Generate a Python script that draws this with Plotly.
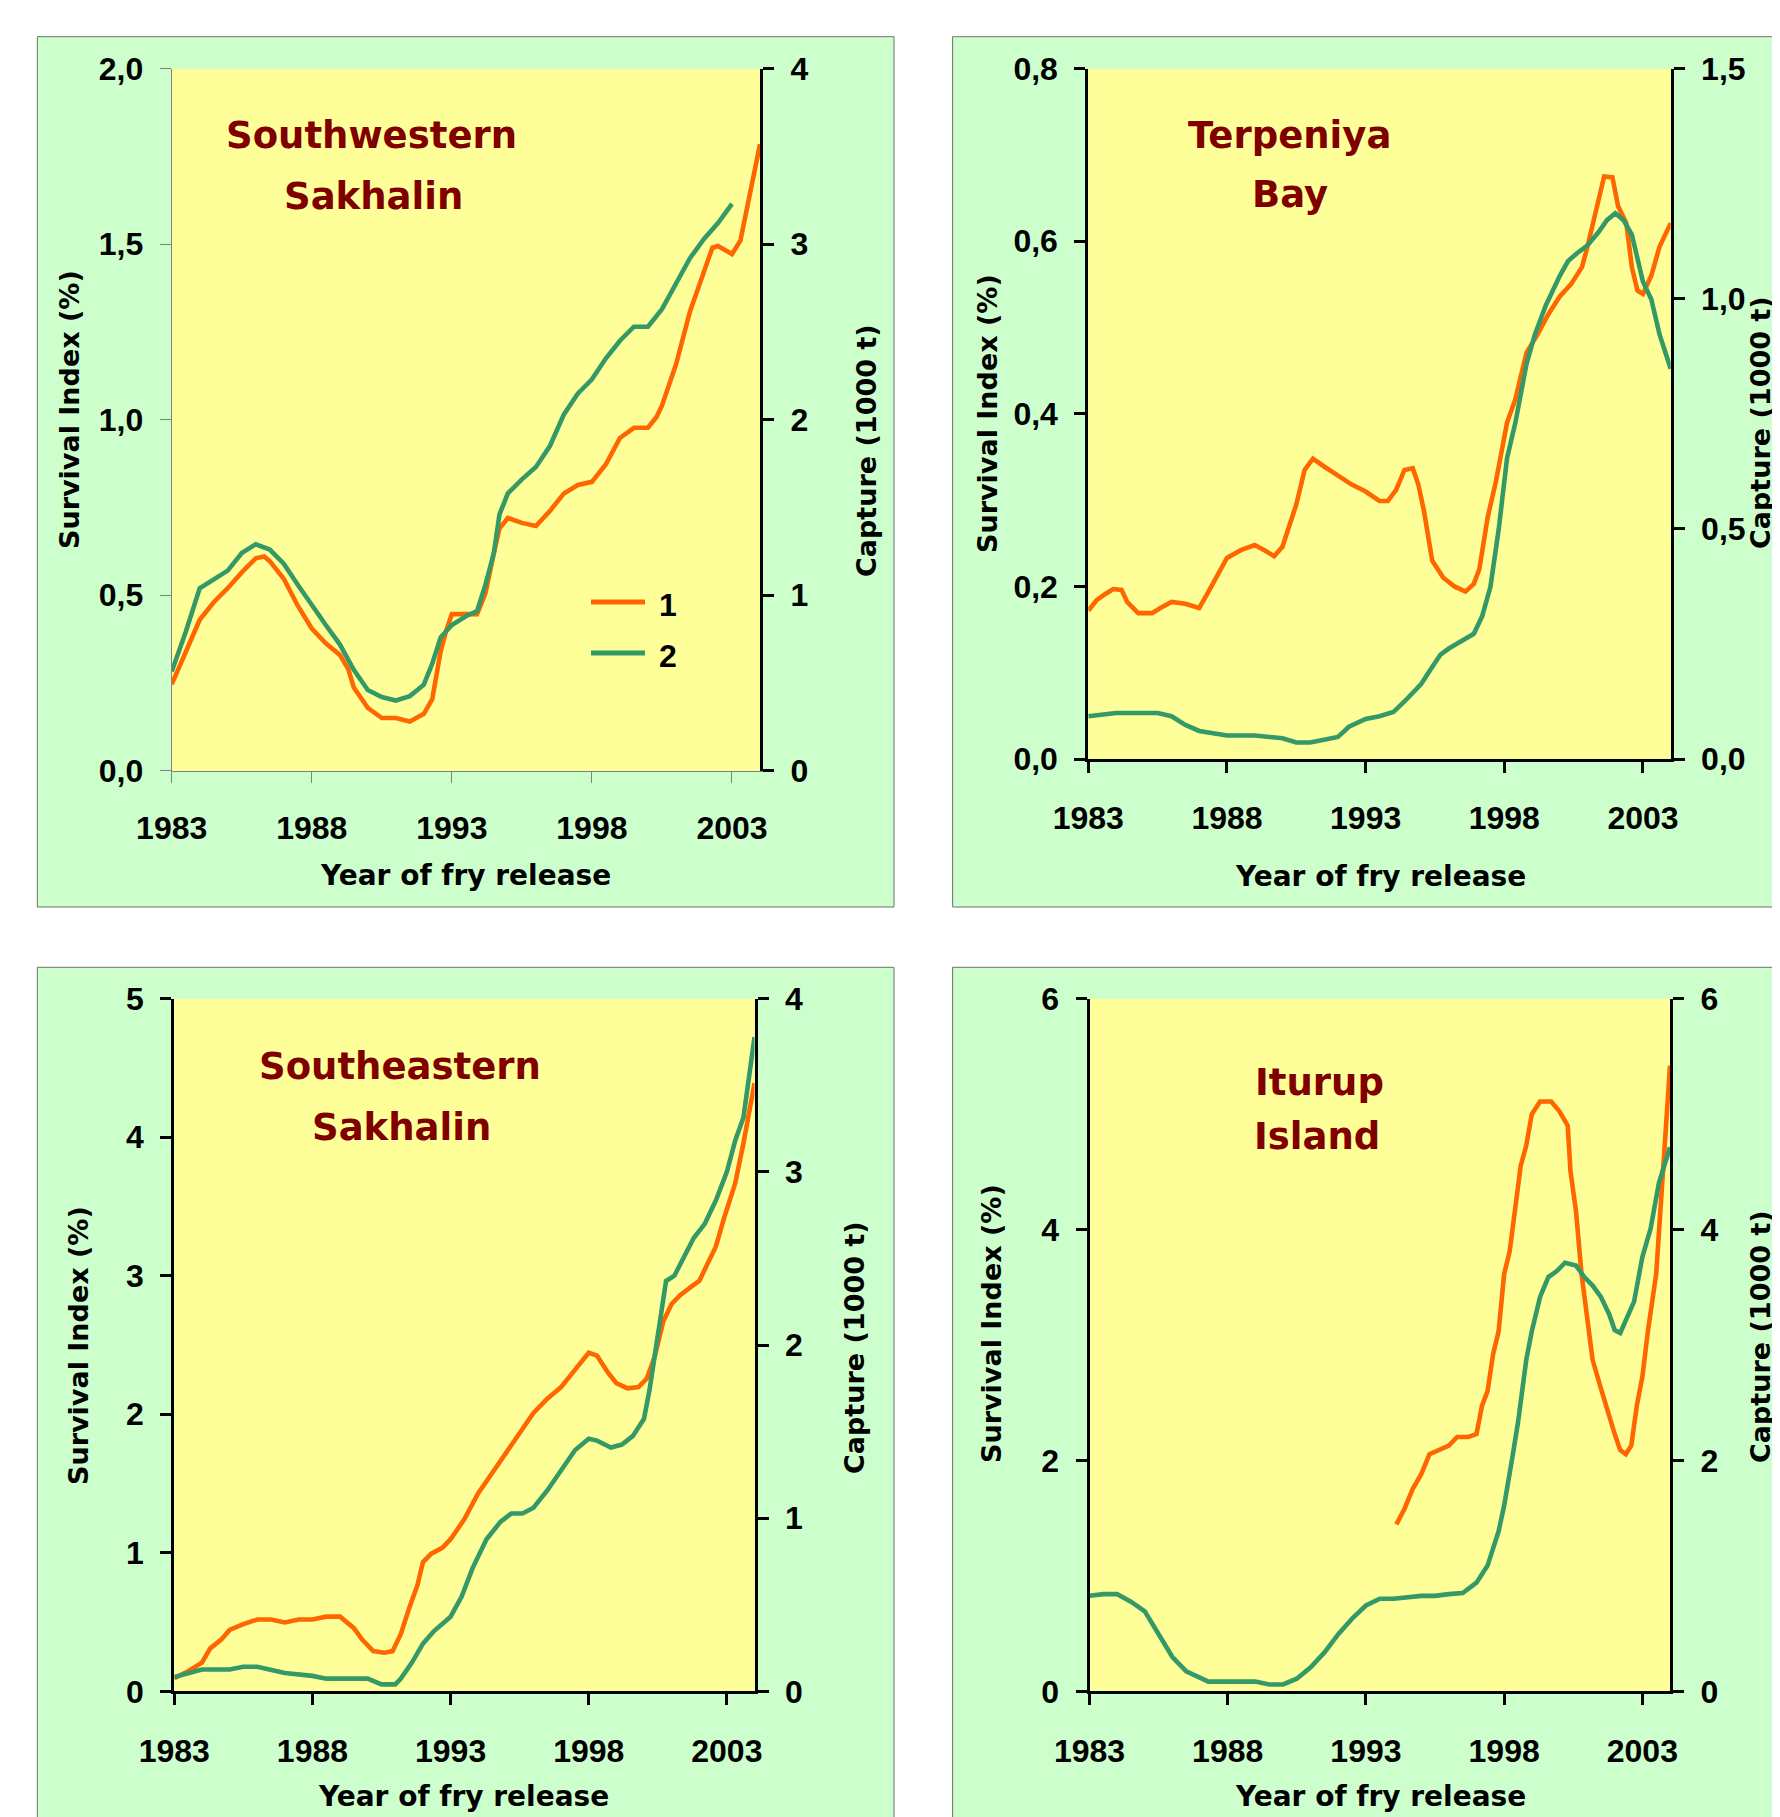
import plotly.graph_objects as go

W, H = 1780, 1817

# ---------------- DATA ----------------
# Panel A: Southwestern Sakhalin
sw_x1 = [1983.0, 1983.5, 1984.0, 1984.5, 1985.0, 1985.5, 1986.0, 1986.3, 1986.5, 1987.0, 1987.5,
         1988.0, 1988.5, 1989.0, 1989.3, 1989.5, 1990.0, 1990.5, 1991.0, 1991.5, 1992.0, 1992.3,
         1992.6, 1992.8, 1993.0, 1993.9, 1994.2, 1994.5, 1994.7, 1995.0, 1995.5, 1996.0, 1996.5,
         1997.0, 1997.5, 1998.0, 1998.5, 1999.0, 1999.5, 2000.0, 2000.3, 2000.5, 2001.0, 2001.5,
         2002.0, 2002.3, 2002.5, 2003.0, 2003.3, 2003.5, 2003.8, 2004.0]
sw_surv = [0.246, 0.338, 0.43, 0.48, 0.52, 0.565, 0.605, 0.61, 0.597, 0.547, 0.47,
           0.405, 0.363, 0.33, 0.29, 0.237, 0.179, 0.15, 0.15, 0.14, 0.162, 0.204,
           0.34, 0.40, 0.446, 0.446, 0.505, 0.62, 0.69, 0.72, 0.706, 0.697, 0.74,
           0.79, 0.814, 0.823, 0.873, 0.948, 0.977, 0.977, 1.007, 1.04, 1.157, 1.308,
           1.425, 1.49, 1.495, 1.472, 1.51, 1.59, 1.71, 1.785]
sw_x2 = [1983.0, 1983.5, 1984.0, 1984.5, 1985.0, 1985.5, 1986.0, 1986.5, 1987.0, 1987.5, 1988.0,
         1988.5, 1989.0, 1989.5, 1990.0, 1990.5, 1991.0, 1991.5, 1992.0, 1992.3, 1992.6, 1993.0,
         1993.5, 1993.9, 1994.2, 1994.5, 1994.7, 1995.0, 1995.5, 1996.0, 1996.5, 1997.0, 1997.5,
         1998.0, 1998.5, 1999.0, 1999.5, 2000.0, 2000.5, 2001.0, 2001.5, 2002.0, 2002.5, 2003.0]
sw_capt = [0.565, 0.79, 1.04, 1.09, 1.14, 1.24, 1.29, 1.26, 1.18, 1.06, 0.94,
           0.83, 0.72, 0.575, 0.46, 0.42, 0.40, 0.425, 0.49, 0.61, 0.76, 0.83,
           0.88, 0.91, 1.06, 1.24, 1.46, 1.58, 1.66, 1.73, 1.85, 2.03, 2.15,
           2.23, 2.35, 2.45, 2.53, 2.53, 2.63, 2.78, 2.92, 3.03, 3.12, 3.23]

# Panel B: Terpeniya Bay
tb_x1 = [1983.0, 1983.3, 1983.6, 1983.9, 1984.2, 1984.4, 1984.8, 1985.3, 1985.6, 1986.0, 1986.5,
         1987.0, 1987.3, 1987.6, 1988.0, 1988.5, 1989.0, 1989.4, 1989.7, 1990.0, 1990.3, 1990.5,
         1990.8, 1991.1, 1991.5, 1992.0, 1992.5, 1993.0, 1993.5, 1993.8, 1994.1, 1994.4, 1994.7,
         1994.9, 1995.1, 1995.4, 1995.8, 1996.2, 1996.6, 1996.9, 1997.1, 1997.4, 1997.7, 1998.1,
         1998.4, 1998.8, 1999.2, 1999.6, 2000.0, 2000.4, 2000.8, 2001.0, 2001.3, 2001.6, 2001.9,
         2002.1, 2002.4, 2002.6, 2002.8, 2003.0, 2003.3, 2003.6, 2004.0]
tb_surv = [0.172, 0.184, 0.191, 0.197, 0.196, 0.182, 0.169, 0.169, 0.175, 0.182, 0.18,
           0.175, 0.192, 0.21, 0.233, 0.242, 0.248, 0.241, 0.235, 0.246, 0.274, 0.295,
           0.335, 0.348, 0.339, 0.329, 0.318, 0.31, 0.299, 0.299, 0.312, 0.335, 0.337,
           0.318, 0.288, 0.23, 0.21, 0.2, 0.194, 0.203, 0.22, 0.28, 0.322, 0.39,
           0.417, 0.471, 0.492, 0.516, 0.536, 0.55, 0.57, 0.594, 0.635, 0.675, 0.674,
           0.641, 0.621, 0.57, 0.543, 0.539, 0.56, 0.594, 0.621]
tb_x2 = [1983.0, 1984.0, 1985.0, 1985.5, 1986.0, 1986.5, 1987.0, 1988.0, 1989.0, 1990.0, 1990.5,
         1991.0, 1991.5, 1992.0, 1992.4, 1993.0, 1993.5, 1994.0, 1994.4, 1995.0, 1995.4, 1995.7,
         1996.0, 1996.5, 1996.9, 1997.2, 1997.5, 1997.8, 1998.1, 1998.4, 1998.8, 1999.1, 1999.5,
         2000.0, 2000.3, 2000.6, 2001.0, 2001.4, 2001.7, 2002.0, 2002.3, 2002.6, 2003.0, 2003.3,
         2003.6, 2004.0]
tb_capt = [0.093, 0.10, 0.10, 0.10, 0.093, 0.074, 0.061, 0.051, 0.051, 0.045, 0.036,
           0.036, 0.042, 0.048, 0.070, 0.087, 0.093, 0.102, 0.125, 0.163, 0.2, 0.227,
           0.24, 0.259, 0.272, 0.31, 0.374, 0.50, 0.654, 0.731, 0.858, 0.922, 0.986,
           1.05, 1.082, 1.098, 1.116, 1.145, 1.171, 1.186, 1.171, 1.139, 1.037, 0.999,
           0.922, 0.848]

# Panel C: Southeastern Sakhalin
se_x1 = [1983.0, 1983.5, 1984.0, 1984.3, 1984.7, 1985.0, 1985.5, 1986.0, 1986.5, 1987.0, 1987.5,
         1988.0, 1988.5, 1989.0, 1989.5, 1989.8, 1990.2, 1990.6, 1990.9, 1991.2, 1991.5, 1991.8,
         1992.0, 1992.3, 1992.7, 1993.0, 1993.5, 1994.0, 1994.5, 1995.0, 1995.5, 1996.0, 1996.5,
         1997.0, 1997.5, 1998.0, 1998.3, 1998.7, 1999.0, 1999.4, 1999.8, 2000.1, 2000.4, 2000.7,
         2001.0, 2001.3, 2001.7, 2002.0, 2002.3, 2002.6, 2002.9, 2003.3, 2003.6, 2004.0]
se_surv = [0.095, 0.145, 0.207, 0.31, 0.373, 0.443, 0.485, 0.518, 0.518, 0.497, 0.518,
           0.518, 0.539, 0.539, 0.456, 0.373, 0.29, 0.278, 0.29, 0.414, 0.60, 0.766,
           0.932, 0.994, 1.036, 1.098, 1.243, 1.43, 1.574, 1.719, 1.864, 2.01, 2.113,
           2.196, 2.32, 2.444, 2.423, 2.30, 2.225, 2.187, 2.196, 2.258, 2.423, 2.672,
           2.796, 2.858, 2.92, 2.962, 3.086, 3.21, 3.418, 3.666, 3.956, 4.39]
se_x2 = [1983.0, 1984.0, 1985.0, 1985.5, 1986.0, 1986.5, 1987.0, 1988.0, 1988.5, 1989.0, 1990.0,
         1990.5, 1991.0, 1991.2, 1991.6, 1992.0, 1992.4, 1993.0, 1993.4, 1993.8, 1994.3, 1994.8,
         1995.2, 1995.6, 1996.0, 1996.5, 1997.0, 1997.5, 1998.0, 1998.3, 1998.8, 1999.2, 1999.6,
         2000.0, 2000.2, 2000.5, 2000.8, 2001.1, 2001.5, 2001.8, 2002.2, 2002.6, 2003.0, 2003.3,
         2003.6, 2004.0]
se_capt = [0.083, 0.126, 0.126, 0.142, 0.142, 0.123, 0.106, 0.089, 0.073, 0.073, 0.073,
           0.040, 0.040, 0.073, 0.166, 0.275, 0.348, 0.431, 0.547, 0.713, 0.878, 0.978,
           1.027, 1.027, 1.06, 1.16, 1.276, 1.392, 1.458, 1.448, 1.408, 1.425, 1.475,
           1.574, 1.74, 2.038, 2.37, 2.40, 2.52, 2.618, 2.70, 2.834, 3.0, 3.18,
           3.314, 3.778]

# Panel D: Iturup Island
it_x1 = [1994.1, 1994.4, 1994.7, 1995.0, 1995.3, 1995.6, 1996.0, 1996.3, 1996.7, 1997.0, 1997.2,
         1997.4, 1997.6, 1997.8, 1998.0, 1998.2, 1998.4, 1998.6, 1998.8, 1999.0, 1999.3, 1999.7,
         2000.0, 2000.3, 2000.4, 2000.6, 2000.8, 2001.0, 2001.2, 2001.5, 2001.8, 2002.0, 2002.2,
         2002.4, 2002.6, 2002.8, 2003.0, 2003.2, 2003.5, 2003.7, 2004.0]
it_surv = [1.446, 1.584, 1.757, 1.881, 2.054, 2.089, 2.129, 2.203, 2.203, 2.228, 2.475,
           2.6, 2.92, 3.119, 3.614, 3.812, 4.208, 4.554, 4.728, 5.0, 5.109, 5.109,
           5.025, 4.90, 4.505, 4.158, 3.614, 3.218, 2.871, 2.624, 2.376, 2.228, 2.089,
           2.054, 2.129, 2.475, 2.723, 3.119, 3.614, 4.307, 5.42]
it_x2 = [1983.0, 1983.5, 1984.0, 1984.5, 1985.0, 1985.5, 1986.0, 1986.5, 1987.0, 1987.3, 1988.0,
         1989.0, 1989.5, 1990.0, 1990.5, 1991.0, 1991.5, 1992.0, 1992.5, 1993.0, 1993.5, 1994.0,
         1995.0, 1995.5, 1996.0, 1996.5, 1997.0, 1997.4, 1997.8, 1998.0, 1998.3, 1998.5, 1998.8,
         1999.0, 1999.3, 1999.6, 1999.9, 2000.2, 2000.6, 2000.9, 2001.2, 2001.5, 2001.8, 2002.0,
         2002.2, 2002.4, 2002.7, 2003.0, 2003.3, 2003.6, 2004.0]
it_capt = [0.827, 0.842, 0.842, 0.777, 0.693, 0.495, 0.297, 0.173, 0.114, 0.084, 0.084,
           0.084, 0.059, 0.059, 0.109, 0.208, 0.337, 0.495, 0.629, 0.743, 0.802, 0.802,
           0.827, 0.827, 0.842, 0.851, 0.941, 1.089, 1.386, 1.609, 2.03, 2.327, 2.871,
           3.119, 3.416, 3.589, 3.639, 3.713, 3.688, 3.589, 3.515, 3.416, 3.267, 3.129,
           3.104, 3.218, 3.376, 3.762, 4.01, 4.406, 4.713]

titles = [["Southwestern", "Sakhalin"], ["Terpeniya", "Bay"],
          ["Southeastern", "Sakhalin"], ["Iturup", "Island"]]
legend_names = ["1", "2"]
x_ticks = [1983, 1988, 1993, 1998, 2003]
left_ranges = [(0, 2.0, 0.5, ".1f"), (0, 0.8, 0.2, ".1f"), (0, 5, 1, "d"), (0, 6, 2, "d")]
right_ranges = [(0, 4, 1, "d"), (0, 1.5, 0.5, ".1f"), (0, 4, 1, "d"), (0, 6, 2, "d")]
x_title = "Year of fry release"
yl_title = "Survival Index (%)"
yr_title = "Capture (1000 t)"

series = [(sw_x1, sw_surv, sw_x2, sw_capt), (tb_x1, tb_surv, tb_x2, tb_capt),
          (se_x1, se_surv, se_x2, se_capt), (it_x1, it_surv, it_x2, it_capt)]

# ---------------- STYLE / LAYOUT ----------------
ORANGE = "#FF6600"
GREEN = "#339966"
TITLE_C = "#800000"
BOX_BG = "#CCFFCC"
PLOT_BG = "#FFFF99"
OFF = 8  # page body margin

def px(v):
    return (v - OFF) / W

def py(v):
    return 1 - (v - OFF) / H

# plot areas in page pixels: (left, right, top, bottom)
areas = [(171.7, 760.0, 68.7, 770.7), (1088.3, 1670.7, 68.7, 759.0),
         (174.3, 754.5, 998.7, 1691.3), (1089.5, 1670.0, 998.7, 1691.3)]
boxes = [(37.3, 894.0, 36.7, 907.0), (952.6, 1810.0, 36.7, 907.0),
         (37.3, 894.0, 967.3, 1850.0), (952.6, 1810.0, 967.3, 1850.0)]
title_pos = [[(371, 136), (373, 197)], [(1289, 135.5), (1290, 195)],
             [(400, 1066), (401, 1127)], [(1319, 1082), (1317, 1136)]]
yl_pos = [(69.5, 409.5), (987, 414), (78, 1346), (991, 1324)]
yr_pos = [(866, 451), (1760, 423), (854, 1348), (1760, 1337)]
xt_pos = [(465, 875.5), (1380, 876.5), (464, 1796), (1380, 1796)]

TICKFONT = dict(family="Liberation Sans, Arial, sans-serif", size=32, color="black", weight="bold")
TITLEFONT = dict(family="DejaVu Sans, sans-serif", size=27, color="black", weight="bold")

fig = go.Figure()
shapes = []
annotations = []
layout = {}

for i in range(4):
    xs1, ys1, xs2, ys2 = series[i]
    xn = "x" if i == 0 else f"x{i+1}"
    yl = "y" if i == 0 else f"y{2*i+1}"
    yr = f"y{2*i+2}"
    fig.add_trace(go.Scatter(x=xs1, y=ys1, xaxis=xn, yaxis=yl, mode="lines",
                             name=legend_names[0], showlegend=False,
                             line=dict(color=ORANGE, width=4.6)))
    fig.add_trace(go.Scatter(x=xs2, y=ys2, xaxis=xn, yaxis=yr, mode="lines",
                             name=legend_names[1], showlegend=False,
                             line=dict(color=GREEN, width=4.6)))
    l, r, t, b = areas[i]
    gray = (i == 0)
    ax_col = "#808080" if gray else "black"
    ax_w = 1 if gray else 3
    xk = "xaxis" if i == 0 else f"xaxis{i+1}"
    ylk = "yaxis" if i == 0 else f"yaxis{2*i+1}"
    yrk = f"yaxis{2*i+2}"
    layout[xk] = dict(domain=[px(l), px(r)], anchor=yl, range=[1983, 2004],
                      tickvals=x_ticks, ticks="outside", ticklen=11, tickwidth=ax_w,
                      tickcolor=ax_col, showline=True, linecolor=ax_col, linewidth=ax_w,
                      showgrid=False, zeroline=False, tickfont=TICKFONT,
                      ticklabelstandoff=18, automargin=False)
    lo, hi, dt, fmt = left_ranges[i]
    layout[ylk] = dict(domain=[py(b), py(t)], anchor=xn, range=[lo, hi], dtick=dt, tick0=0,
                       tickformat=fmt, ticks="outside", ticklen=11, tickwidth=ax_w,
                       tickcolor=ax_col, showline=True, linecolor=ax_col, linewidth=ax_w,
                       showgrid=False, zeroline=False, tickfont=TICKFONT,
                       ticklabelstandoff=10, automargin=False)
    lo, hi, dt, fmt = right_ranges[i]
    layout[yrk] = dict(overlaying=yl, side="right", anchor=xn, range=[lo, hi], dtick=dt, tick0=0,
                       tickformat=fmt, ticks="outside", ticklen=11, tickwidth=3,
                       tickcolor="black", showline=True, linecolor="black", linewidth=3,
                       showgrid=False, zeroline=False, tickfont=TICKFONT,
                       ticklabelstandoff=10, automargin=False)
    bl, br, bt, bb = boxes[i]
    shapes.append(dict(type="rect", xref="paper", yref="paper", layer="below",
                       x0=px(bl), x1=px(br), y0=py(bb), y1=py(bt),
                       fillcolor=BOX_BG, line=dict(color="#707070", width=1)))
    shapes.append(dict(type="rect", xref="paper", yref="paper", layer="below",
                       x0=px(l), x1=px(r), y0=py(b), y1=py(t),
                       fillcolor=PLOT_BG, line=dict(width=0)))
    for txt, (tx, ty) in zip(titles[i], title_pos[i]):
        annotations.append(dict(text=txt, x=px(tx), y=py(ty), xref="paper", yref="paper",
                                showarrow=False, xanchor="center", yanchor="middle",
                                font=dict(family="DejaVu Sans, sans-serif", size=37,
                                          color=TITLE_C, weight="bold")))
    annotations.append(dict(text=yl_title, x=px(yl_pos[i][0]), y=py(yl_pos[i][1]),
                            xref="paper", yref="paper", showarrow=False, textangle=-90,
                            xanchor="center", yanchor="middle", font=TITLEFONT))
    annotations.append(dict(text=yr_title, x=px(yr_pos[i][0]), y=py(yr_pos[i][1]),
                            xref="paper", yref="paper", showarrow=False, textangle=-90,
                            xanchor="center", yanchor="middle", font=TITLEFONT))
    annotations.append(dict(text=x_title, x=px(xt_pos[i][0]), y=py(xt_pos[i][1]),
                            xref="paper", yref="paper", showarrow=False,
                            xanchor="center", yanchor="middle",
                            font=dict(TITLEFONT, size=28)))

# legend (panel A)
for name, col, ly in zip(legend_names, [ORANGE, GREEN], [602, 653]):
    shapes.append(dict(type="line", xref="paper", yref="paper", layer="above",
                       x0=px(591), x1=px(645), y0=py(ly), y1=py(ly),
                       line=dict(color=col, width=5)))
    annotations.append(dict(text=name, x=px(657), y=py(ly + 3), xref="paper", yref="paper",
                            showarrow=False, xanchor="left", yanchor="middle",
                            font=TICKFONT))

fig.update_layout(width=W, height=H, autosize=False,
                  margin=dict(l=0, r=0, t=0, b=0, pad=0, autoexpand=False),
                  paper_bgcolor="white", plot_bgcolor="rgba(0,0,0,0)",
                  separators=", ", showlegend=False,
                  shapes=shapes, annotations=annotations, **layout)

fig.write_html("out.html")
